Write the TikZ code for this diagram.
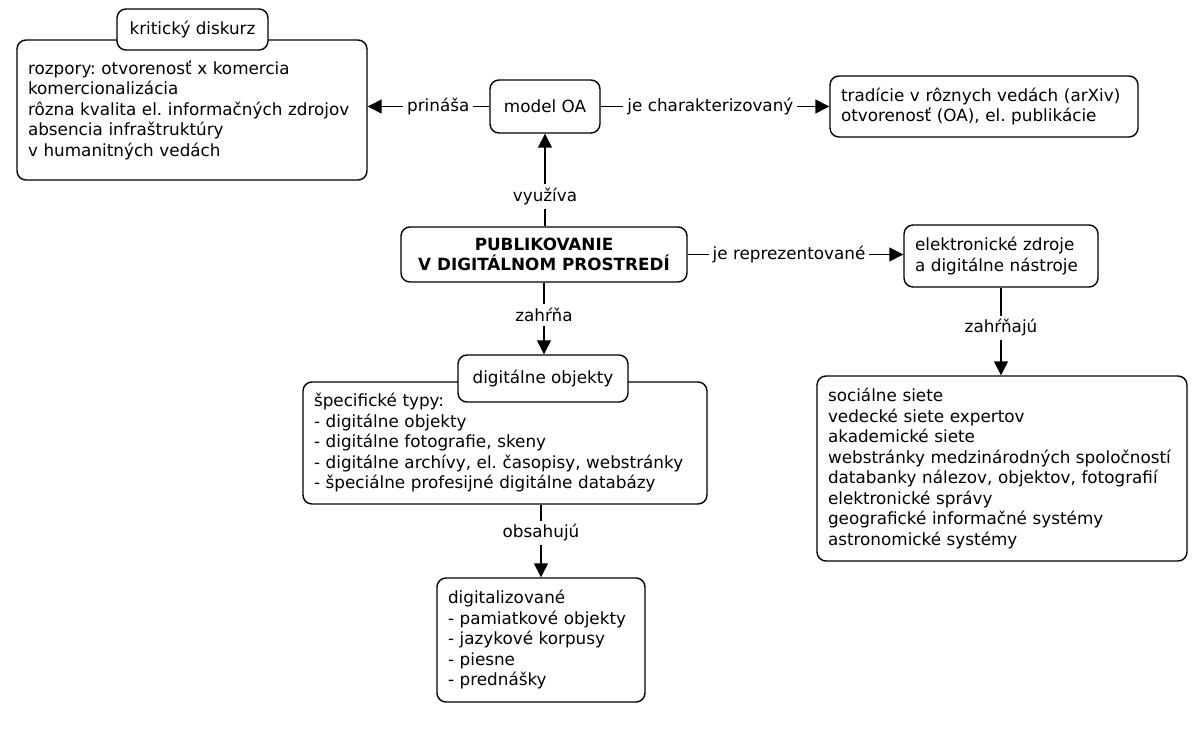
\documentclass[tikz,border=0pt]{standalone}
\usepackage{fontspec}
\setmainfont{DejaVu Sans}
\usetikzlibrary{arrows.meta}
\newcommand\mline[1]{\mbox{#1}}
\begin{document}
\frenchspacing
\begin{tikzpicture}[x=1pt,y=-1pt,
  box/.style={draw, line width=1.4pt, rounded corners=9pt, fill=white, inner xsep=11pt, inner ysep=4pt,
    font=\fontsize{16.8}{20.5}\selectfont, align=left},
  tag/.style={draw, line width=1.4pt, rounded corners=9pt, fill=white, inner sep=3pt,
    font=\fontsize{16.8}{20.5}\selectfont, align=center},
  lbl/.style={fill=white, inner sep=4pt, font=\fontsize{16.8}{20.5}\selectfont},
  conn/.style={line width=1.4pt, -{Triangle[width=14pt,length=14pt]}}
]
\useasboundingbox (0,0) rectangle (1201,751);

% boxes
\node[box, text width=328pt, minimum height=140pt] (krit) at (192,110)
 {\mline{rozpory: otvorenosť x komercia}\\\mline{komercionalizácia}\\\mline{rôzna kvalita el. informačných zdrojov}\\\mline{absencia infraštruktúry}\\\mline{v humanitných vedách}};
\node[tag, minimum width=151pt, minimum height=41pt] (kritlbl) at (192.5,29.5) {kritický diskurz};

\node[tag, minimum width=110pt, minimum height=53pt] (oa) at (545,106.5) {model OA};

\node[box, text width=286pt, minimum height=61pt] (trad) at (984,106.5)
 {\mline{tradície v rôznych vedách (arXiv)}\\\mline{otvorenosť (OA), el. publikácie}};

\node[tag, minimum width=286pt, minimum height=55pt, font=\fontsize{16.8}{20.5}\selectfont\bfseries] (pub) at (544,254.5)
 {PUBLIKOVANIE\\V DIGITÁLNOM PROSTREDÍ};

\node[box, text width=172pt, minimum height=62pt] (ele) at (1001,256)
 {\mline{elektronické zdroje}\\\mline{a digitálne nástroje}};

\node[box, text width=348pt, minimum height=185pt] (siete) at (1002,468.5)
 {\mline{sociálne siete}\\\mline{vedecké siete expertov}\\\mline{akademické siete}\\\mline{webstránky medzinárodných spoločností}\\\mline{databanky nálezov, objektov, fotografií}\\\mline{elektronické správy}\\\mline{geografické informačné systémy}\\\mline{astronomické systémy}};

\node[box, text width=382pt, minimum height=122pt] (dig) at (505,443)
 {\mline{špecifické typy:}\\\mline{- digitálne objekty}\\\mline{- digitálne fotografie, skeny}\\\mline{- digitálne archívy, el. časopisy, webstránky}\\\mline{- špeciálne profesijné digitálne databázy}};
\node[tag, minimum width=170pt, minimum height=47pt] (diglbl) at (543,378.5) {digitálne objekty};

\node[box, text width=186pt, minimum height=124pt] (dlz) at (541,640)
 {\mline{digitalizované}\\\mline{- pamiatkové objekty}\\\mline{- jazykové korpusy}\\\mline{- piesne}\\\mline{- prednášky}};

% connectors
\draw[conn] (oa.west) -- node[lbl, pos=0.42] {prináša} (krit.east |- oa.west);
\draw[conn] (oa.east) -- node[lbl, pos=0.48] {je charakterizovaný} (trad.west);
\draw[conn] (pub.north -| oa.south) -- node[lbl, pos=0.32] {využíva} (oa.south);
\draw[conn] (pub.east) -- node[lbl, pos=0.47] {je reprezentované} (ele.west |- pub.east);
\draw[conn] (pub.south) -- node[lbl, pos=0.45] {zahŕňa} (diglbl.north -| pub.south);
\draw[conn] (ele.south) -- node[lbl, pos=0.46] {zahŕňajú} (siete.north -| ele.south);
\draw[conn] (dig.south -| dlz.north) -- node[lbl, pos=0.39] {obsahujú} (dlz.north);
\end{tikzpicture}
\end{document}
